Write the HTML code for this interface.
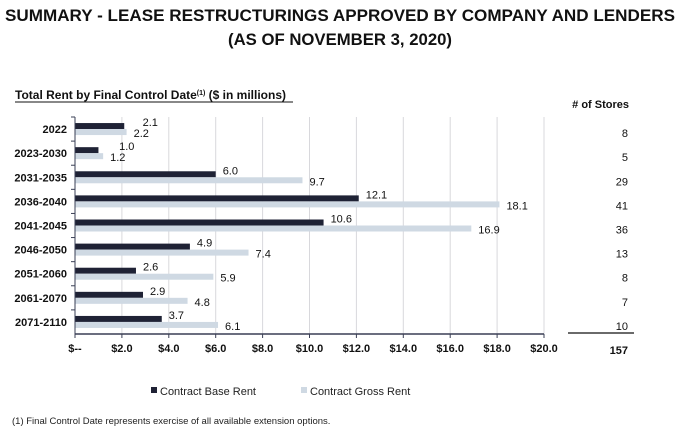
<!DOCTYPE html>
<html><head><meta charset="utf-8"><style>
body{margin:0;background:#fff;font-family:"Liberation Sans",Arial,sans-serif}
</style></head><body>
<svg width="680" height="430" xmlns="http://www.w3.org/2000/svg" font-family="Liberation Sans, Arial, sans-serif">
<text x="5" y="21" textLength="670" lengthAdjust="spacingAndGlyphs" font-size="17" font-weight="bold" fill="#111">SUMMARY - LEASE RESTRUCTURINGS APPROVED BY COMPANY AND LENDERS</text>
<text x="228" y="45" textLength="224" lengthAdjust="spacingAndGlyphs" font-size="17" font-weight="bold" fill="#111">(AS OF NOVEMBER 3, 2020)</text>
<text x="15" y="99" font-size="12" font-weight="bold" fill="#111">Total Rent by Final Control Date<tspan font-size="7" dy="-4">(1)</tspan><tspan dy="4"> ($ in millions)</tspan></text>
<line x1="15" y1="102" x2="293" y2="102" stroke="#111" stroke-width="1"/>
<text x="629" y="108" text-anchor="end" font-size="11" font-weight="bold" fill="#111"># of Stores</text>
<g id="grid"></g><g id="bars"></g><g id="axes"></g>
<line x1="568" y1="333" x2="634" y2="333" stroke="#111" stroke-width="1.2"/>
<text x="628" y="354" text-anchor="end" font-size="11" font-weight="bold" fill="#111">157</text>
<rect x="151" y="387" width="6" height="6" fill="#1f2235"/>
<text x="160" y="395" font-size="11" fill="#222">Contract Base Rent</text>
<rect x="301" y="387" width="6" height="6" fill="#cfd9e3"/>
<text x="310" y="395" font-size="11" fill="#222">Contract Gross Rent</text>
<text x="12" y="424" font-size="9.5" fill="#222">(1) Final Control Date represents exercise of all available extension options.</text>
</svg>
<script>
const categories=["2022","2023-2030","2031-2035","2036-2040","2041-2045","2046-2050","2051-2060","2061-2070","2071-2110"];
const baseRent=[2.1,1.0,6.0,12.1,10.6,4.9,2.6,2.9,3.7];
const grossRent=[2.2,1.2,9.7,18.1,16.9,7.4,5.9,4.8,6.1];
const stores=[8,5,29,41,36,13,8,7,10];
const xTicks=[0,2,4,6,8,10,12,14,16,18,20];
const xTickLabels=["$--","$2.0","$4.0","$6.0","$8.0","$10.0","$12.0","$14.0","$16.0","$18.0","$20.0"];
const NS="http://www.w3.org/2000/svg";
const x0=75,x1=544,yTop=117,yBot=334;
const xs=v=>x0+(v/20)*(x1-x0);
const band=(yBot-yTop)/categories.length;
const yc=i=>yTop+band*(i+0.5);
function mk(tag,attrs,parent,text){const e=document.createElementNS(NS,tag);for(const k in attrs)e.setAttribute(k,attrs[k]);if(text!==undefined)e.textContent=text;document.getElementById(parent).appendChild(e);return e;}
xTicks.forEach((t,i)=>{
 if(t>0){const g=mk('line',{x1:xs(t),x2:xs(t),y1:yTop,y2:yBot,stroke:'#d8d8dc','stroke-width':1},'grid');
 
 }
 const tk=mk('line',{x1:xs(t),x2:xs(t),y1:yBot,y2:yBot+4,stroke:'#3a3f55'},'axes');
 
 
 const lb=mk('text',{x:xs(t),y:yBot+18,'text-anchor':'middle','font-size':11,'font-weight':'bold',fill:'#111'},'axes',xTickLabels[i]);
 
 
});
const ax=mk('line',{x1:x0,x2:x1,y1:yBot,y2:yBot,stroke:'#3a3f55','stroke-width':1.5},'axes');


const ay=mk('line',{x1:x0,x2:x0,y1:yTop,y2:yBot,stroke:'#3a3f55','stroke-width':1},'axes');


categories.forEach((c,i)=>{
 const y=yc(i);
 const yt=mk('line',{x1:x0-4,x2:x0,y1:yTop+band*i,y2:yTop+band*i,stroke:'#3a3f55'},'axes');
 
 
 const cl=mk('text',{x:67,y:y+4,'text-anchor':'end','font-size':11,'font-weight':'bold',fill:'#111'},'axes',c);
 
 
 const b=mk('rect',{x:x0,y:y-6,width:xs(baseRent[i])-x0,height:6,fill:'#1f2235'},'bars');
 
 
 const g=mk('rect',{x:x0,y:y,width:xs(grossRent[i])-x0,height:6,fill:'#cfd9e3'},'bars');
 
 
 const small=Math.max(baseRent[i],grossRent[i])<3;
 const bx=small?xs(Math.max(baseRent[i],grossRent[i]))+16:xs(baseRent[i])+7;
 const gx=xs(grossRent[i])+7;
 const bl=mk('text',{x:bx,y:y-3,'font-size':11,fill:'#111'},'bars',baseRent[i].toFixed(1));
 
 
 const gl=mk('text',{x:gx,y:y+8,'font-size':11,fill:'#111'},'bars',grossRent[i].toFixed(1));
 
 
 const st=mk('text',{x:628,y:y+8,'text-anchor':'end','font-size':11,fill:'#111'},'bars',String(stores[i]));
 
 
});
</script>
</body></html>
